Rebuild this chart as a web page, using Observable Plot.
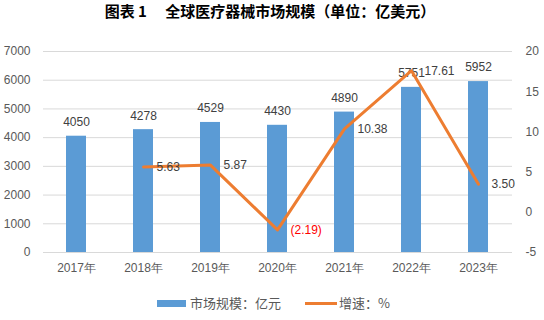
<!DOCTYPE html>
<html><head><meta charset="utf-8">
<script src="https://cdn.jsdelivr.net/npm/d3@7"></script>
<script src="https://cdn.jsdelivr.net/npm/@observablehq/plot@0.6"></script>
<style>
body{margin:0;width:544px;height:320px;position:relative;background:#fff;overflow:hidden;}
#title{position:absolute;left:0;top:0;width:540px;height:28px;line-height:28px;text-align:center;font:bold 15px "Noto Sans CJK SC",sans-serif;color:#000;white-space:pre;}
#chart{position:absolute;left:0;top:30px;}
#legend{position:absolute;left:0;top:294px;width:544px;height:18px;font:13px "Noto Sans CJK SC",sans-serif;color:#595959;}
.sw{position:absolute;}
.lt{position:absolute;top:0;line-height:18px;}
</style></head>
<body>
<div id="title">图表 1　 全球医疗器械市场规模（单位：亿美元）</div>
<div id="chart"></div>
<div id="legend">
  <div class="sw" style="left:157px;top:6px;width:29px;height:7px;background:#5B9BD5"></div>
  <div class="lt" style="left:190px">市场规模：亿元</div>
  <div class="sw" style="left:305px;top:8px;width:32px;height:3px;background:#ED7D31"></div>
  <div class="lt" style="left:339px">增速：%</div>
</div>
<script>
const years = ["2017年","2018年","2019年","2020年","2021年","2022年","2023年"];
const marketSize = [4050,4278,4529,4430,4890,5751,5952];
const growth = [null,5.63,5.87,-2.19,10.38,17.61,3.50];
const growthLabels = [null,"5.63","5.87","(2.19)","10.38","17.61","3.50"];
const leftTicks = [0,1000,2000,3000,4000,5000,6000,7000];
const rightTicks = [-5,0,5,10,15,20];

// right axis (-5..20) mapped onto left axis (0..7000)
const toLeft = v => (v + 5) * 280;
const fromLeft = v => String(Math.round(v / 280 - 5));

const data = years.map((y,i) => ({year:y, size:marketSize[i], growth:growth[i], glabel:growthLabels[i]}));
const lineData = data.filter(d => d.growth !== null);

const chart = Plot.plot({
  width: 544, height: 252,
  marginTop: 21, marginBottom: 30, marginLeft: 43, marginRight: 32,
  style: {fontFamily: "'Liberation Sans', Arial, sans-serif", fontSize: "12px", color: "#595959", background: "#fff", overflow: "visible"},
  x: {domain: years, paddingInner: 0.7, paddingOuter: 0.35},
  y: {domain: [0, 7000]},
  marks: [
    Plot.gridY(leftTicks, {stroke: "#D9D9D9", strokeOpacity: 1, strokeWidth: 1}),
    Plot.barY(data, {x: "year", y: "size", fill: "#5B9BD5"}),
    Plot.text(data, {x: "year", y: "size", text: d => String(d.size), dy: -14, fill: "#404040", fontSize: 12}),
    Plot.line(lineData, {x: "year", y: d => toLeft(d.growth), stroke: "#ED7D31", strokeWidth: 3, strokeLinejoin: "round", strokeLinecap: "round"}),
    Plot.text(lineData, {x: "year", y: d => toLeft(d.growth), text: "glabel", dx: 13, textAnchor: "start", fill: d => d.growth < 0 ? "#FF0000" : "#404040", fontSize: 12}),
    Plot.axisY(leftTicks, {anchor: "left", tickSize: 0, tickPadding: 13, label: null, tickFormat: d => String(d), fill: "#595959"}),
    Plot.axisY(rightTicks.map(toLeft), {anchor: "right", tickSize: 0, tickPadding: 13, label: null, tickFormat: fromLeft, fill: "#595959"}),
    Plot.axisX({tickSize: 0, tickPadding: 11, label: null, fill: "#595959"})
  ]
});
document.getElementById("chart").appendChild(chart);
</script>
</body></html>
